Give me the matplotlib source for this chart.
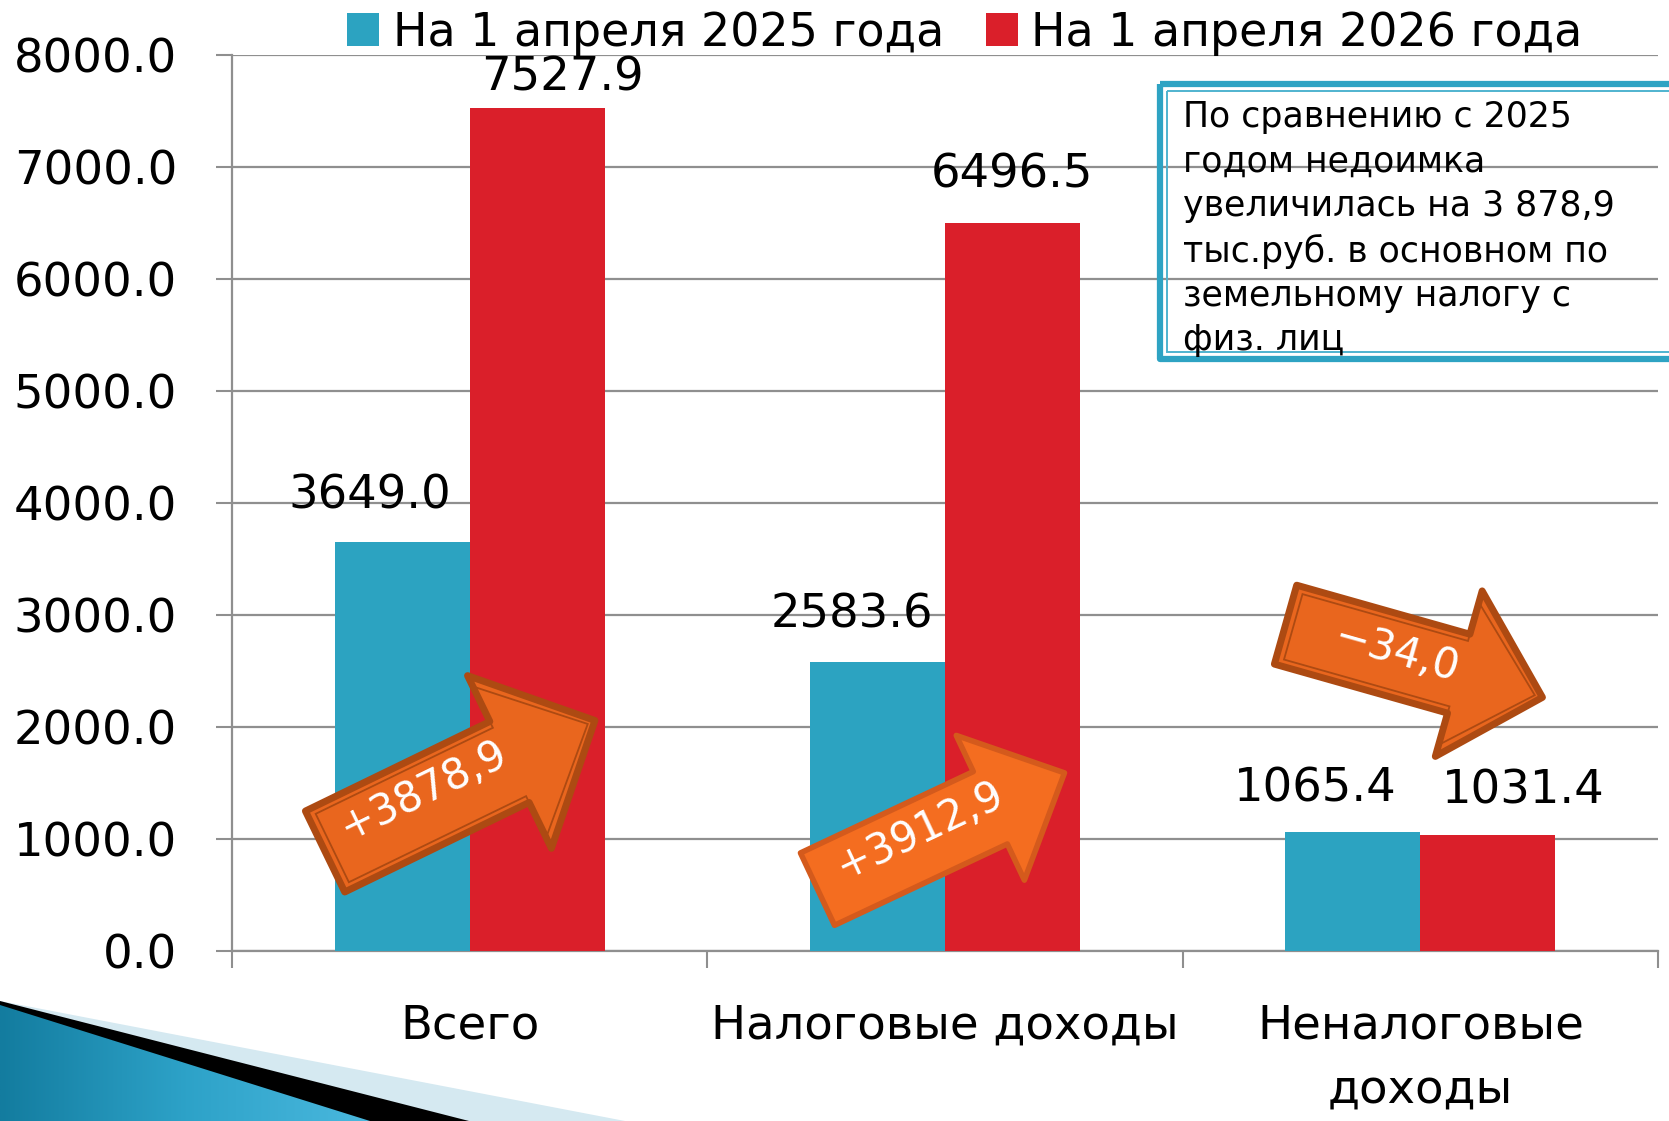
import numpy as np
import matplotlib
matplotlib.use('Agg')
import matplotlib.pyplot as plt
from matplotlib.patches import Polygon, Rectangle
from matplotlib.colors import LinearSegmentedColormap

# data
categories = ['Всего', 'Налоговые доходы', 'Неналоговые\nдоходы']
series_names = ['На 1 апреля 2025 года', 'На 1 апреля 2026 года']
values_2025 = [3649.0, 2583.6, 1065.4]
values_2026 = [7527.9, 6496.5, 1031.4]
changes = ['+3878,9', '+3912,9', '\u221234,0']
note = ('По сравнению с 2025\nгодом недоимка\nувеличилась на 3 878,9\n'
        'тыс.руб. в основном по\nземельному налогу с\nфиз. лиц')

W, H, DPI = 1669, 1121, 100
BLUE, RED = '#2ca3c1', '#da1f2a'
GRID = '#8f8f8f'
FS = 33.5

plt.rcParams['font.family'] = ['DejaVu Sans']
fig = plt.figure(figsize=(W / DPI, H / DPI), dpi=DPI)
ax = fig.add_axes([232 / W, 1 - 951 / H, (1658 - 232) / W, (951 - 55) / H])

x = np.arange(len(categories))
bw = 0.284
b1 = ax.bar(x - bw / 2, values_2025, bw, color=BLUE, zorder=3, label=series_names[0])
b2 = ax.bar(x + bw / 2, values_2026, bw, color=RED, zorder=3, label=series_names[1])

ax.set_xlim(-0.5, 2.5)
ax.set_ylim(0, 8000)
ax.set_yticks(np.arange(0, 8001, 1000))
ax.yaxis.set_major_formatter(matplotlib.ticker.FormatStrFormatter('%.1f'))
ax.grid(axis='y', color=GRID, lw=1.6, zorder=0)
ax.set_axisbelow(True)
for s in ['top', 'right']:
    ax.spines[s].set_visible(False)
for s in ['left', 'bottom']:
    ax.spines[s].set_color(GRID)
    ax.spines[s].set_linewidth(1.6)
ax.tick_params(axis='y', length=11.5, width=1.5, color=GRID, pad=28, labelsize=FS)
ax.set_xticks(x)
ax.set_xticklabels(categories)
ax.tick_params(axis='x', which='major', length=0, pad=38, labelsize=FS)
for t in ax.get_xticklabels():
    t.set_linespacing(1.55)
ax.set_xticks(np.arange(-0.5, 3, 1), minor=True)
ax.tick_params(axis='x', which='minor', length=12.5, width=1.5, color=GRID)

# data labels (offsets in px)
offs_2025 = [(-32, 46), (-26, 47), (-38, 43)]
offs_2026 = [(25, 30), (0, 48), (35, 44)]
for bars, vals, offs in [(b1, values_2025, offs_2025), (b2, values_2026, offs_2026)]:
    for r, v, (dx, dy) in zip(bars, vals, offs):
        ax.annotate('%.1f' % v, (r.get_x() + r.get_width() / 2, v),
                    xytext=(dx * 0.72, dy * 0.72), textcoords='offset points',
                    ha='center', va='center', fontsize=FS)

fig.legend(handles=[b1, b2], labels=series_names, loc='center',
           bbox_to_anchor=(965 / W, 1 - 33 / H), ncol=2, frameon=False,
           fontsize=33, handlelength=0.7, handleheight=0.7, handletextpad=0.3,
           columnspacing=0.9, borderpad=0)

# overlay in pixel coords (y down)
ov = fig.add_axes([0, 0, 1, 1], zorder=5)
ov.patch.set_visible(False)
ov.axis('off')

# bottom-left decoration
ov.add_patch(Polygon([(0, 1001), (625, 1121), (0, 1121)], closed=True, color='#d5e9f1', lw=0))
ov.add_patch(Polygon([(0, 1001), (469, 1121), (0, 1121)], closed=True, color='black', lw=0))
wedge = Polygon([(0, 1005), (370, 1121), (0, 1121)], closed=True, color='none', lw=0)
ov.add_patch(wedge)
cm = LinearSegmentedColormap.from_list('b', ['#137c9f', '#2da2c8', '#4ab8de'])
grad = np.linspace(0, 1, 256)[None, :]
im = ov.imshow(grad, cmap=cm, extent=[0, 370, 1121, 1005], aspect='auto', zorder=3)
im.set_clip_path(wedge)


def arrow_poly(cx, cy, L, sw, hw, hl, a):
    t = np.radians(a)
    al = np.array([np.cos(t), -np.sin(t)])
    pp = np.array([-np.sin(t), -np.cos(t)])
    loc = [(-L / 2, -sw / 2), (L / 2 - hl, -sw / 2), (L / 2 - hl, -hw / 2), (L / 2, 0),
           (L / 2 - hl, hw / 2), (L / 2 - hl, sw / 2), (-L / 2, sw / 2)]
    return [tuple(np.array([cx, cy]) + u * al + v * pp) for u, v in loc]


arrows = [
    # cx, cy, L, shaft, head w, head len, angle, text xy, face, edge, inner line
    (460, 786, 300, 90, 192, 95, 25.9, (423, 790), '#e9661e', '#ad4a12', True),
    (941, 831, 273, 80, 160, 82, 25.2, (920, 830), '#f46d20', '#d45a1c', False),
    (1414, 661, 267, 82, 172, 87, -15.8, (1397, 653), '#e9661e', '#ad4a12', True),
]
for (cx, cy, L, sw, hw, hl, a, txy, fc, ec, inner), txt in zip(arrows, changes):
    ov.add_patch(Polygon(arrow_poly(cx, cy, L, sw, hw, hl, a), closed=True,
                         fc=fc, ec=ec, lw=5 if inner else 4, joinstyle='round', zorder=4))
    if inner:
        ov.add_patch(Polygon(arrow_poly(cx, cy, L - 16, sw - 14, hw - 24, hl - 8, a),
                             closed=True, fill=False, ec=ec, lw=1.3, zorder=4))
    ov.text(txy[0], txy[1], txt, rotation=a, rotation_mode='anchor', ha='center',
            va='center', color='white', fontsize=30, zorder=5)

# note box
ov.add_patch(Rectangle((1160, 84), 600, 275, fill=False, ec='#2ea3c3', lw=4.5, joinstyle='round'))
ov.add_patch(Rectangle((1167, 91), 600, 261, fill=False, ec='#4fb3cf', lw=1.4))
ov.text(1183, 100, note, ha='left', va='top', fontsize=25, linespacing=1.385, color='black')

ov.set_xlim(0, W)
ov.set_ylim(H, 0)

fig.savefig('out.png', dpi=DPI)
